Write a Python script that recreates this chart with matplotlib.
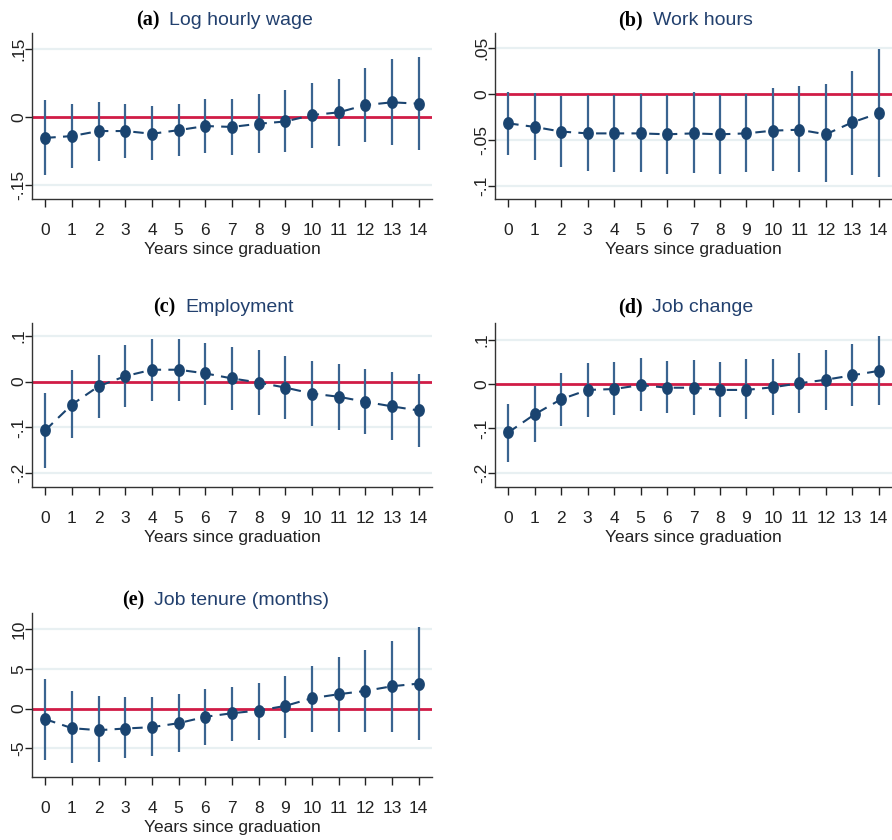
import matplotlib
matplotlib.use("Agg")
import matplotlib.pyplot as plt
import numpy as np
from matplotlib.path import Path
from matplotlib.offsetbox import TextArea, HPacker, AnnotationBbox
from matplotlib import font_manager

# ---------------- data ----------------
years = list(range(15))

wage_est = [-0.046, -0.042, -0.031, -0.031, -0.037, -0.029, -0.020, -0.022, -0.015, -0.010, 0.004, 0.010, 0.026, 0.032, 0.029]
wage_hi = [0.037, 0.028, 0.032, 0.028, 0.023, 0.028, 0.039, 0.039, 0.051, 0.059, 0.075, 0.083, 0.107, 0.126, 0.132]
wage_lo = [-0.128, -0.112, -0.096, -0.091, -0.094, -0.086, -0.080, -0.083, -0.080, -0.077, -0.068, -0.064, -0.054, -0.062, -0.072]

hours_est = [-0.032, -0.036, -0.041, -0.043, -0.043, -0.043, -0.044, -0.043, -0.044, -0.043, -0.040, -0.039, -0.044, -0.031, -0.021]
hours_hi = [0.002, 0.001, -0.002, -0.001, -0.001, 0.000, -0.001, 0.002, -0.001, 0.000, 0.007, 0.009, 0.011, 0.025, 0.049]
hours_lo = [-0.067, -0.072, -0.080, -0.084, -0.085, -0.085, -0.087, -0.086, -0.087, -0.085, -0.084, -0.085, -0.096, -0.088, -0.091]

emp_est = [-0.106, -0.050, -0.010, 0.012, 0.026, 0.026, 0.018, 0.007, -0.002, -0.013, -0.026, -0.033, -0.044, -0.054, -0.063]
emp_hi = [-0.024, 0.025, 0.059, 0.081, 0.093, 0.093, 0.085, 0.075, 0.068, 0.056, 0.045, 0.039, 0.028, 0.022, 0.017]
emp_lo = [-0.188, -0.124, -0.079, -0.056, -0.042, -0.042, -0.052, -0.061, -0.072, -0.082, -0.097, -0.105, -0.115, -0.127, -0.143]

jobch_est = [-0.109, -0.068, -0.034, -0.013, -0.011, -0.002, -0.008, -0.008, -0.013, -0.013, -0.007, 0.002, 0.010, 0.020, 0.030]
jobch_hi = [-0.044, -0.005, 0.026, 0.048, 0.050, 0.058, 0.053, 0.055, 0.051, 0.057, 0.057, 0.070, 0.078, 0.091, 0.109]
jobch_lo = [-0.175, -0.131, -0.095, -0.073, -0.069, -0.061, -0.064, -0.069, -0.073, -0.078, -0.069, -0.065, -0.058, -0.050, -0.048]

tenure_est = [-1.34, -2.47, -2.72, -2.51, -2.34, -1.84, -1.04, -0.59, -0.25, 0.33, 1.30, 1.80, 2.21, 2.80, 3.13]
tenure_hi = [3.72, 2.17, 1.63, 1.50, 1.46, 1.84, 2.47, 2.76, 3.22, 4.10, 5.39, 6.52, 7.40, 8.44, 10.20]
tenure_lo = [-6.44, -6.85, -6.77, -6.27, -5.93, -5.52, -4.55, -4.14, -3.97, -3.64, -2.93, -3.01, -2.97, -2.97, -4.01]

letters = ["(a)", "(b)", "(c)", "(d)", "(e)"]
titles = ["Log hourly wage", "Work hours", "Employment", "Job change", "Job tenure (months)"]
ytick_vals = [[-0.15, 0, 0.15], [-0.1, -0.05, 0, 0.05], [-0.2, -0.1, 0, 0.1], [-0.2, -0.1, 0, 0.1], [-5, 0, 5, 10]]
ytick_labels = [["-.15", "0", ".15"], ["-.1", "-.05", "0", ".05"], ["-.2", "-.1", "0", ".1"], ["-.2", "-.1", "0", ".1"], ["-5", "0", "5", "10"]]
xlabel = "Years since graduation"

# ---------------- style / layout ----------------
names = {f.name for f in font_manager.fontManager.ttflist}
SANS = "Liberation Sans Narrow" if "Liberation Sans Narrow" in names else "Liberation Sans"
SERIF = "Liberation Serif"
plt.rcParams["font.family"] = [SANS, "DejaVu Sans"]

W, H = 892, 840
MARK = "#1a4470"
CI = "#3a6490"
RED = "#d01c46"
GRID = "#e8f0f2"
TITLEC = "#22406e"
TXT = "#222222"

# (x0, top, x1, bottom) in pixels, ylim, title center x, title baseline y
layout = [
    ((32, 33, 432, 199), (-0.18, 0.184), 224.5, 26),
    ((495, 33, 892, 199), (-0.1145, 0.0664), 685.5, 26),
    ((32, 323, 432, 487), (-0.230, 0.128), 223.5, 313),
    ((495, 323, 892, 487), (-0.232, 0.138), 685.5, 313),
    ((32, 613, 432, 777), (-8.6, 12.0), 225.5, 606),
]

series = [
    (wage_est, wage_lo, wage_hi),
    (hours_est, hours_lo, hours_hi),
    (emp_est, emp_lo, emp_hi),
    (jobch_est, jobch_lo, jobch_hi),
    (tenure_est, tenure_lo, tenure_hi),
]

t = np.linspace(0, 2 * np.pi, 60)
ell = Path(np.column_stack([0.82 * np.cos(t), np.sin(t)]), closed=True)

fig = plt.figure(figsize=(W / 100, H / 100), dpi=100)

for i in range(5):
    (x0, top, x1, bot), ylim, tcx, tby = layout[i]
    est, lo, hi = series[i]
    ax = fig.add_axes([x0 / W, 1 - bot / H, (x1 - x0) / W, (bot - top) / H])
    ax.set_xlim(-0.5, 14.5)
    ax.set_ylim(*ylim)
    for v in ytick_vals[i]:
        if v != 0:
            ax.axhline(v, color=GRID, lw=1.6, zorder=0)
    ax.axhline(0, color=RED, lw=2.0, zorder=1)
    ax.vlines(years, lo, hi, color=CI, lw=1.6, zorder=2)
    ax.plot(years, est, color=MARK, lw=1.5, dashes=(5, 3.5), zorder=3)
    ax.plot(years, est, ls="none", marker=ell, ms=8.2, color=MARK, mec=MARK, zorder=4)

    ax.set_xticks(years)
    ax.set_xticklabels([str(y) for y in years])
    ax.set_yticks(ytick_vals[i])
    ax.set_yticklabels(ytick_labels[i])
    ax.tick_params(axis="x", length=6, width=1, pad=11, labelsize=12.5, colors=TXT)
    ax.tick_params(axis="y", length=5, width=1, pad=-1, labelsize=12.5, colors=TXT, labelrotation=90)
    for lab in ax.get_yticklabels():
        lab.set_va("center")
    ax.set_xlabel(xlabel, fontsize=12.5, labelpad=3, color=TXT)
    for s in ["top", "right"]:
        ax.spines[s].set_visible(False)
    for s in ["left", "bottom"]:
        ax.spines[s].set_color("#333333")
        ax.spines[s].set_linewidth(1.0)
    ax.set_facecolor("white")

    ta1 = TextArea(letters[i], textprops=dict(family=SERIF, weight="bold", size=14.5, color="black"))
    ta2 = TextArea(titles[i], textprops=dict(family=SANS, size=14, color=TITLEC))
    box = HPacker(children=[ta1, ta2], align="baseline", pad=0, sep=7)
    ab = AnnotationBbox(box, (tcx, H - tby - 4), xycoords="figure pixels",
                        box_alignment=(0.5, 0.0), frameon=False, pad=0)
    fig.add_artist(ab)

fig.savefig("out.png", dpi=100, facecolor="white")
